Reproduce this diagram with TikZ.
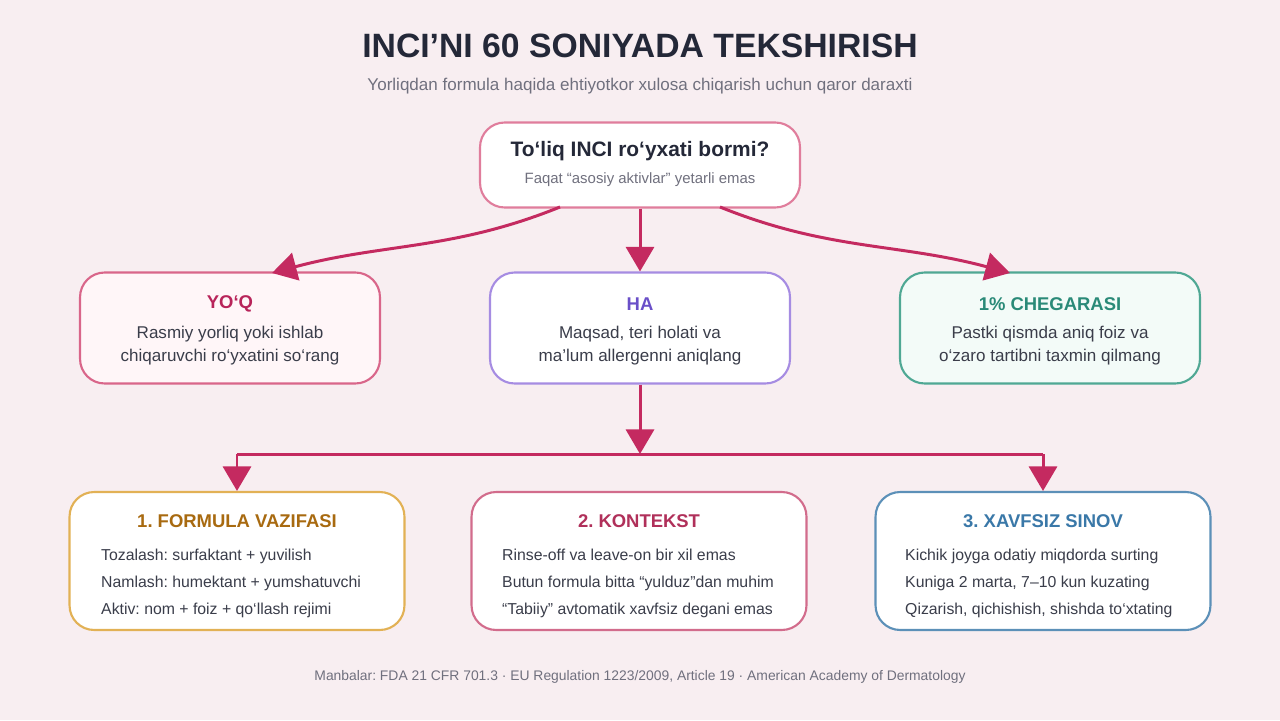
\documentclass[tikz,border=0pt]{standalone}
\usepackage{fontspec}
\setmainfont{Liberation Sans}
\usetikzlibrary{arrows.meta,positioning}
\frenchspacing
\definecolor{bgpink}{HTML}{F8EEF1}
\definecolor{arrowc}{HTML}{C42A60}
\definecolor{titlec}{HTML}{242838}
\definecolor{subc}{HTML}{70707E}
\definecolor{bodyc}{HTML}{3A3D4A}
\definecolor{qline}{HTML}{E07D9C}
\definecolor{noline}{HTML}{D9668A}
\definecolor{nofill}{HTML}{FFF6F8}
\definecolor{noc}{HTML}{B8245A}
\definecolor{yesline}{HTML}{A68CE2}
\definecolor{yesc}{HTML}{6A4FC8}
\definecolor{limline}{HTML}{4FA894}
\definecolor{limfill}{HTML}{F3FBF8}
\definecolor{limc}{HTML}{2A8A78}
\definecolor{oneline}{HTML}{E2B155}
\definecolor{onec}{HTML}{A86A10}
\definecolor{twoline}{HTML}{D26C8C}
\definecolor{twoc}{HTML}{B0305A}
\definecolor{threeline}{HTML}{5C90B8}
\definecolor{threec}{HTML}{3A78A8}
\begin{document}
\begin{tikzpicture}[
        x=0.02cm, y=-0.02cm,
        box/.style={draw, line width=1.2pt, rounded corners=14pt, fill=white},
        mid/.style={box, minimum width=6cm, minimum height=2.22cm},
        low/.style={box, minimum width=6.7cm, minimum height=2.76cm},
        head/.style={font=\bfseries\fontsize{10.5}{12}\selectfont},
        body/.style={font=\fontsize{9}{15.3}\selectfont, text=bodyc, align=left},
        midbody/.style={font=\fontsize{9.7}{13}\selectfont, text=bodyc, align=center},
        arrow/.style={line width=1.7pt, arrowc, -{Triangle[width=16pt,length=14pt]}},
        line/.style={line width=1.7pt, arrowc}
    ]
        \fill[bgpink] (0,0) rectangle (1280,720);
        \useasboundingbox (0,0) rectangle (1280,720);

        % Titel
        \node[font=\bfseries\fontsize{19.2}{22}\selectfont, text=titlec] (title) at (640,46) {INCI’NI 60 SONIYADA TEKSHIRISH};
        \node[font=\fontsize{9.7}{11}\selectfont, text=subc] (sub) at (640,86) {Yorliqdan formula haqida ehtiyotkor xulosa chiqarish uchun qaror daraxti};

        % Savol
        \node[box, draw=qline, minimum width=6.4cm, minimum height=1.7cm] (q) at (640,165) {};
        \node[font=\bfseries\fontsize{11.9}{14}\selectfont, text=titlec] at (640,151) {To‘liq INCI ro‘yxati bormi?};
        \node[font=\fontsize{8.5}{10}\selectfont, text=subc] at (640,180) {Faqat “asosiy aktivlar” yetarli emas};

        % Javoblar
        \node[mid, draw=noline, fill=nofill] (no) at (230,328) {};
        \node[mid, draw=yesline] (yes) at (640,328) {};
        \node[mid, draw=limline, fill=limfill] (lim) at (1050,328) {};
        \node[head, text=noc] at (230,304) {YO‘Q};
        \node[head, text=yesc] at (640,304) {HA};
        \node[head, text=limc] at (1050,304) {1\% CHEGARASI};
        \node[midbody] at (230,346) {Rasmiy yorliq yoki ishlab\\chiqaruvchi ro‘yxatini so‘rang};
        \node[midbody] at (640,346) {Maqsad, teri holati va\\ma’lum allergenni aniqlang};
        \node[midbody] at (1050,346) {Pastki qismda aniq foiz va\\o‘zaro tartibni taxmin qilmang};

        % Qadamlar
        \node[low, draw=oneline] (s1) at (237,561) {};
        \node[low, draw=twoline] (s2) at (639,561) {};
        \node[low, draw=threeline] (s3) at (1043,561) {};
        \node[head, text=onec] at (237,521) {1. FORMULA VAZIFASI};
        \node[head, text=twoc] at (639,521) {2. KONTEKST};
        \node[head, text=threec] at (1043,521) {3. XAVFSIZ SINOV};
        \node[body, anchor=north west] at (95,543) {Tozalash: surfaktant + yuvilish\\Namlash: humektant + yumshatuvchi\\Aktiv: nom + foiz + qo‘llash rejimi};
        \node[body, anchor=north west] at (496,543) {Rinse-off va leave-on bir xil emas\\Butun formula bitta “yulduz”dan muhim\\“Tabiiy” avtomatik xavfsiz degani emas};
        \node[body, anchor=north west] at (899,543) {Kichik joyga odatiy miqdorda surting\\Kuniga 2 marta, 7–10 kun kuzating\\Qizarish, qichishish, shishda to‘xtating};

        % Strelkalar
        \coordinate (qa) at (560,207);
        \coordinate (qb) at (720,207);
        \coordinate (noin) at (272,273);
        \coordinate (limin) at (1010,273);
        \coordinate (hub) at (640,454);
        \coordinate (hl) at (237,454);
        \coordinate (hr) at (1043,454);
        \draw[arrow] (qa) to[out=-158,in=15] (noin);
        \draw[arrow] (q) -- (yes);
        \draw[arrow] (qb) to[out=-22,in=165] (limin);
        \draw[arrow] (yes) -- (hub);
        \draw[line] (hl) -- (hr);
        \draw[arrow] (hl) -- (s1);
        \draw[arrow] (hr) -- (s3);

        % Manbalar
        \node[font=\fontsize{7.9}{9}\selectfont, text=subc] (src) at (640,677) {Manbalar: FDA 21 CFR 701.3 · EU Regulation 1223/2009, Article 19 · American Academy of Dermatology};
    \end{tikzpicture}
\end{document}
